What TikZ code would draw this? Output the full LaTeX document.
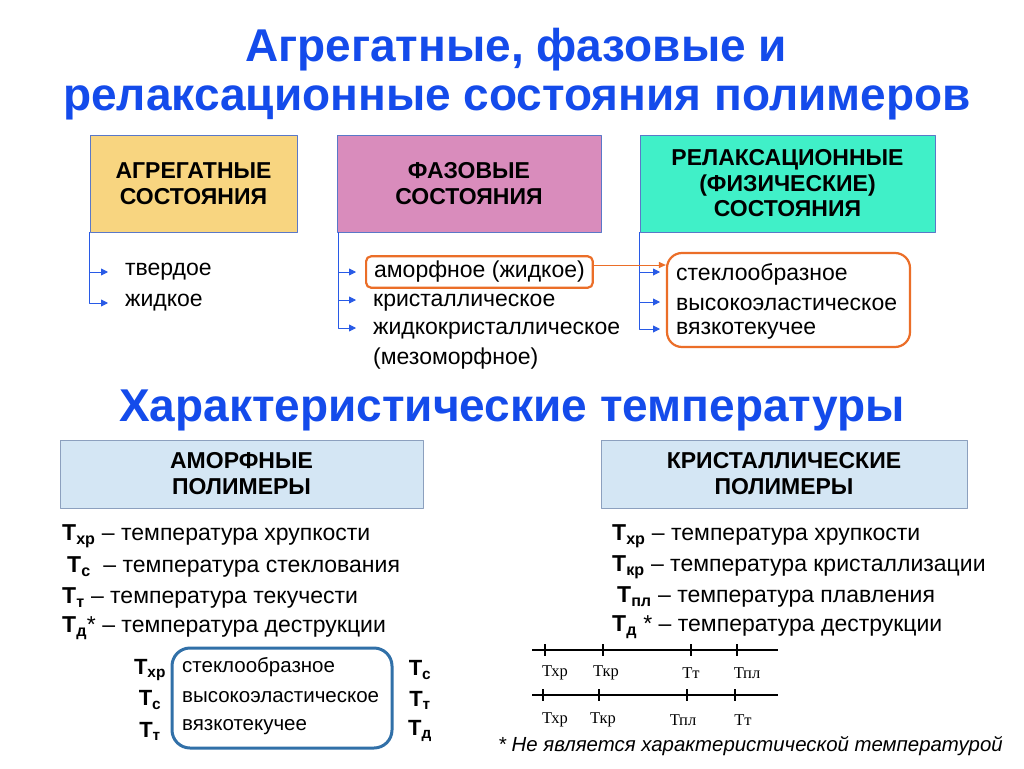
\documentclass[tikz,border=0pt]{standalone}
\usepackage{fontspec}
\setmainfont{Liberation Sans}
\newfontfamily\serfont{Liberation Serif}
\usetikzlibrary{arrows.meta,positioning}
\newcommand{\Tsb}[1]{\textbf{Т}\textsubscript{\textbf{#1}}}

\begin{document}
\begin{tikzpicture}[x=1pt,y=-1pt,line join=round,
  catbox/.style={draw=boxedge,align=center,inner sep=0,font=\fontsize{23}{25.5}\selectfont\bfseries},
  polybox/.style={draw=polyedge,fill=polyfill,align=center,inner sep=0,minimum height=68,
    font=\fontsize{23}{26}\selectfont\bfseries},
  item/.style={anchor=west,inner sep=0,font=\fontsize{23}{27}\selectfont},
  titem/.style={anchor=west,inner sep=0,font=\fontsize{23}{27}\selectfont},
  bitem/.style={anchor=west,inner sep=0,font=\fontsize{20.5}{24}\selectfont},
  tlab/.style={inner sep=0,font=\fontsize{22}{25}\selectfont},
  scl/.style={font=\serfont\fontsize{16.5}{18}\selectfont},
  tree/.style={draw=treeblue,line width=0.9pt,-{Triangle[length=7pt,width=7pt]}},
  heading/.style={text=headblue,font=\fontsize{46}{54}\selectfont\bfseries}]
\definecolor{headblue}{RGB}{20,75,235}\definecolor{treeblue}{RGB}{40,90,230}
\definecolor{aggfill}{RGB}{248,213,128}\definecolor{fazfill}{RGB}{217,140,188}
\definecolor{relfill}{RGB}{64,240,200}\definecolor{boxedge}{RGB}{90,120,200}
\definecolor{polyfill}{RGB}{212,230,244}\definecolor{polyedge}{RGB}{140,160,190}
\definecolor{orline}{RGB}{235,110,40}\definecolor{tempbox}{RGB}{49,112,168}
\useasboundingbox[fill=white] (0,0) rectangle (1024,768);
% titles
\node[heading] (title1) at (516,50) {Агрегатные, фазовые и};
\node[heading] (title2) at (517,103) {релаксационные состояния полимеров};
% three kinds of states
\node[catbox,fill=aggfill,minimum width=207,minimum height=97] (agg) at (193.5,183.5)
  {АГРЕГАТНЫЕ\\СОСТОЯНИЯ};
\node[catbox,fill=fazfill,minimum width=264,minimum height=97] (faz) at (469,183.5)
  {ФАЗОВЫЕ\\СОСТОЯНИЯ};
\node[catbox,fill=relfill,minimum width=295,minimum height=97] (rel) at (787.5,183.5)
  {РЕЛАКСАЦИОННЫЕ\\(ФИЗИЧЕСКИЕ)\\СОСТОЯНИЯ};
% aggregate states
\node[item] (tv) at (125,272) {твердое};
\node[item] (zh) at (125,303) {жидкое};
\foreach \n in {tv,zh}{\draw[tree,shorten >=17pt] (agg.south west) |- (\n.west);}
% phase states
\node[item,draw=orline,line width=2.2pt,rounded corners=5pt,inner xsep=8pt,inner ysep=5pt]
  (amb) at (365,272) {аморфное (жидкое)};
\node[item] (kr) at (373,303) {кристаллическое};
\node[item] (zk) at (373,331) {жидкокристаллическое};
\node[item] (mz) at (373,359) {(мезоморфное)};
\draw[tree,shorten >=9pt] ([xshift=2pt]faz.south west) |- (amb.west);
\foreach \n in {kr,zk}{\draw[tree,shorten >=17pt] ([xshift=2pt]faz.south west) |- ([yshift=3pt]\n.west);}
% relaxation states
\node[draw=orline,line width=2.2pt,rounded corners=15pt,minimum width=243,minimum height=94]
  (relbox) at (788.5,300) {};
\node[item] (st) at (676,274) {стеклообразное};
\node[item] (ve) at (676,304) {высокоэластическое};
\node[item] (vt) at (676,331) {вязкотекучее};
\foreach \n in {st,ve,vt}{\draw[tree,shorten >=16pt] (rel.south west) |- ([yshift=2pt]\n.west);}
\draw[orline,line width=1pt,-{Triangle[length=7pt,width=6pt]}]
  ([yshift=7pt]amb.east) -- ([yshift=7pt]amb.east -| relbox.west);
% characteristic temperatures
\node[heading] (title3) at (512,410) {Характеристические температуры};
\node[polybox,minimum width=363] (amp) at (241.5,474) {АМОРФНЫЕ\\ПОЛИМЕРЫ};
\node[polybox,minimum width=366] (krp) at (784,474) {КРИСТАЛЛИЧЕСКИЕ\\ПОЛИМЕРЫ};
\node[titem] (a1) at (62,536) {\Tsb{хр} -- температура хрупкости};
\node[titem] (a2) at (67,567) {\Tsb{с}\ \ -- температура стеклования};
\node[titem] (a3) at (62,598) {\Tsb{т} -- температура текучести};
\node[titem] (a4) at (62,628) {\Tsb{д}* -- температура деструкции};
\node[titem] (k1) at (612,536) {\Tsb{хр} -- температура хрупкости};
\node[titem] (k2) at (612,567) {\Tsb{кр} -- температура кристаллизации};
\node[titem] (k3) at (617,597) {\Tsb{пл} -- температура плавления};
\node[titem] (k4) at (612,627) {\Tsb{д} * -- температура деструкции};
% amorphous polymer ranges
\node[draw=tempbox,line width=3pt,rounded corners=18pt,minimum width=220,minimum height=100]
  (ampbox) at (282,698) {};
\foreach \n/\t/\y in {s1/стеклообразное/667, s2/высокоэластическое/697, s3/вязкотекучее/727}{
  \node[bitem] (\n) at (182,\y) {\t};}
\foreach \n/\s/\y in {l1/хр/670, l2/с/700, l3/т/731}{\node[tlab] (\n) at (150,\y) {\Tsb{\s}};}
\foreach \n/\s/\y in {r1/с/670, r2/т/700, r3/д/731}{\node[tlab] (\n) at (420,\y) {\Tsb{\s}};}
% crystalline polymer scales
\foreach \y/\ty in {650/673, 695/720}{\draw[line width=2.6pt] (532,\y) -- (778,\y);}
\foreach \x in {545,603,691,737}{\draw[line width=1.8pt] (\x,644) -- (\x,656);}
\foreach \x in {543,599,687,735}{\draw[line width=1.8pt] (\x,689) -- (\x,701);}
\foreach \x/\t in {555/Тхр, 606/Ткр, 691/Тт, 747/Тпл}{\node[scl] at (\x,673) {\t};}
\foreach \x/\t in {555/Тхр, 603/Ткр, 683/Тпл, 743/Тт}{\node[scl] at (\x,720) {\t};}
\node[anchor=east,inner sep=0,font=\fontsize{20.4}{24}\selectfont\itshape] (note) at (1003,746)
  {* Не является характеристической температурой};
\end{tikzpicture}
\end{document}
